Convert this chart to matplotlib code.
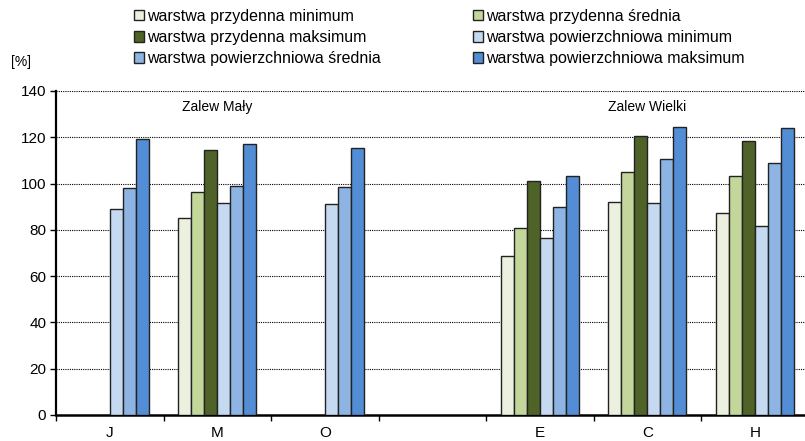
import numpy as np
import matplotlib.pyplot as plt
from matplotlib.patches import Patch

plt.rcParams['font.family'] = ['Liberation Sans', 'DejaVu Sans']

# categories (one empty slot between the two lagoons)
categories = ['J', 'M', 'O', '', 'E', 'C', 'H']

# series values [%], NaN = no bar
prz_min = [np.nan, 85.0, np.nan, np.nan, 68.5, 92.1, 87.2]
prz_sr  = [np.nan, 96.3, np.nan, np.nan, 81.0, 104.9, 103.3]
prz_max = [np.nan, 114.3, np.nan, np.nan, 101.2, 120.6, 118.6]
pow_min = [88.9, 91.7, 91.1, np.nan, 76.3, 91.5, 81.5]
pow_sr  = [98.1, 99.1, 98.6, np.nan, 89.9, 110.7, 108.9]
pow_max = [119.3, 117.2, 115.4, np.nan, 103.2, 124.5, 124.0]

series = [prz_min, prz_sr, prz_max, pow_min, pow_sr, pow_max]
labels = ['warstwa przydenna minimum', 'warstwa przydenna średnia',
          'warstwa przydenna maksimum', 'warstwa powierzchniowa minimum',
          'warstwa powierzchniowa średnia', 'warstwa powierzchniowa maksimum']
colors = ['#EBF1DE', '#C4D79B', '#4F6228', '#C5D9F1', '#8DB4E2', '#538DD5']

fig = plt.figure(figsize=(8.05, 4.41), dpi=100)
ax = fig.add_axes([56/805, 1-415/441, 752.5/805, 324/441])

x = np.arange(len(categories)) + 0.5
w = 0.1205
for i, (vals, c) in enumerate(zip(series, colors)):
    ax.bar(x + (i - 2.5)*w, vals, width=w, color=c, edgecolor='#222222',
           linewidth=1.0, zorder=3)

ax.set_xlim(0, 7)
ax.set_ylim(0, 140)
ax.set_yticks(np.arange(0, 141, 20))
ax.set_xticks(np.arange(0, 8))
ax.set_xticks(x, minor=True)
ax.set_xticklabels([])
ax.set_xticklabels(categories, minor=True)
ax.tick_params(axis='x', which='minor', length=0, pad=8, labelsize=11)
ax.tick_params(axis='x', which='major', length=4, width=1, direction='out')
ax.tick_params(axis='y', length=4, width=1, direction='out', labelsize=11, pad=3)
ax.yaxis.grid(True, linestyle=(0, (1, 1)), color='black', linewidth=0.8, zorder=0)
for s in ['top', 'right']:
    ax.spines[s].set_visible(False)
ax.spines['left'].set_linewidth(1.6)
ax.spines['bottom'].set_linewidth(1.8)

ax.text(1.5, 133.3, 'Zalew Mały', ha='center', va='center', fontsize=10)
ax.text(5.5, 133.3, 'Zalew Wielki', ha='center', va='center', fontsize=10)

fig.text(21/805, 1-62/441, '[%]', ha='center', va='center', fontsize=10)

handles = [Patch(facecolor=c, edgecolor='#222222', linewidth=1.0) for c in colors]
order = [0, 2, 4, 1, 3, 5]
fig.legend([handles[k] for k in order], [labels[k] for k in order],
           ncol=2, loc='upper left', bbox_to_anchor=(134/805, 1-9/441),
           frameon=False, fontsize=11.5, handlelength=0.6, handleheight=0.6,
           handletextpad=0.2, labelspacing=0.38, columnspacing=5.8, borderpad=0,
           borderaxespad=0)

fig.savefig('out.png', dpi=100)
